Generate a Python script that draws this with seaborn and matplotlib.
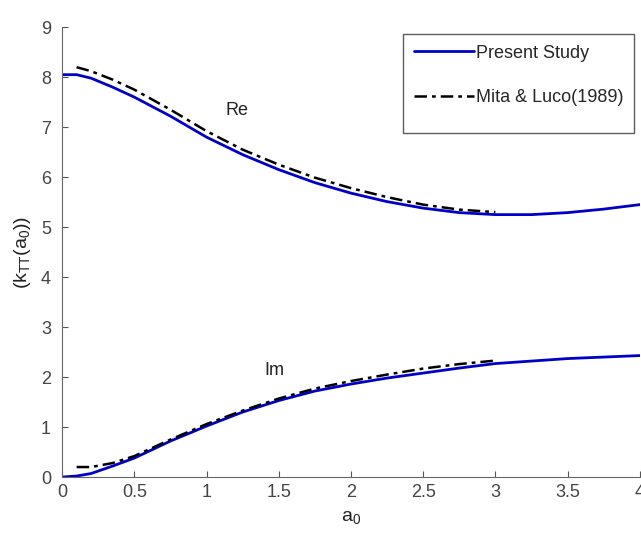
import numpy as np
import pandas as pd
import matplotlib
matplotlib.use('Agg')
import matplotlib.pyplot as plt
import seaborn as sns

# Present Study (blue solid)
a0_present = [0.0, 0.1, 0.2, 0.35, 0.5, 0.75, 1.0, 1.25, 1.5, 1.75, 2.0, 2.25, 2.5, 2.75, 3.0, 3.25, 3.5, 3.75, 4.0]
re_present = [8.05, 8.05, 7.98, 7.8, 7.6, 7.22, 6.8, 6.45, 6.15, 5.89, 5.68, 5.51, 5.38, 5.29, 5.25, 5.25, 5.29, 5.36, 5.45]
im_present = [0.0, 0.02, 0.07, 0.22, 0.38, 0.72, 1.02, 1.3, 1.53, 1.72, 1.86, 1.98, 2.08, 2.18, 2.27, 2.32, 2.37, 2.4, 2.43]

# Mita & Luco (1989) (black dash-dot)
a0_mita = [0.1, 0.2, 0.35, 0.5, 0.75, 1.0, 1.25, 1.5, 1.75, 2.0, 2.25, 2.5, 2.75, 3.0]
re_mita = [8.2, 8.12, 7.95, 7.75, 7.35, 6.92, 6.55, 6.25, 5.99, 5.78, 5.6, 5.45, 5.35, 5.3]
im_mita = [0.2, 0.2, 0.28, 0.42, 0.75, 1.06, 1.33, 1.57, 1.77, 1.92, 2.05, 2.17, 2.26, 2.33]

sns.set_style('ticks')
plt.rcParams['font.family'] = ['Liberation Sans', 'DejaVu Sans']
plt.rcParams['mathtext.fontset'] = 'custom'
plt.rcParams['mathtext.rm'] = 'Liberation Sans'
plt.rcParams['mathtext.it'] = 'Liberation Sans'

fig = plt.figure(figsize=(6.41, 5.33), dpi=100)
ax = fig.add_axes([0.097, 0.105, 0.901, 0.844])

df_p = pd.DataFrame({'a0': a0_present, 're': re_present, 'im': im_present})
df_m = pd.DataFrame({'a0': a0_mita, 're': re_mita, 'im': im_mita})

dashdot = (0, (5, 2, 1.5, 2))
sns.lineplot(data=df_p, x='a0', y='re', ax=ax, color='#0000c8', lw=2, sort=False, label='Present Study')
sns.lineplot(data=df_p, x='a0', y='im', ax=ax, color='#0000c8', lw=2, sort=False)
sns.lineplot(data=df_m, x='a0', y='re', ax=ax, color='black', lw=1.8, sort=False,
             linestyle=dashdot, label='Mita & Luco(1989)')
sns.lineplot(data=df_m, x='a0', y='im', ax=ax, color='black', lw=1.8, sort=False,
             linestyle=dashdot)

ax.text(1.21, 7.34, 'Re', fontsize=13, ha='center', va='center', color='#222222')
ax.text(1.47, 2.14, 'Im', fontsize=13, ha='center', va='center', color='#222222')

ax.set_xlim(0, 4)
ax.set_ylim(0, 9)
ax.set_xticks(np.arange(0, 4.01, 0.5))
ax.set_xticklabels(['0', '0.5', '1', '1.5', '2', '2.5', '3', '3.5', '4'])
ax.set_yticks(range(0, 10))
ax.tick_params(direction='in', length=4, labelsize=13, colors='#555555', labelcolor='#444444')
ax.tick_params(axis='y', pad=8)
ax.tick_params(axis='x', pad=5)
for s in ['top', 'right']:
    ax.spines[s].set_visible(False)
for s in ['left', 'bottom']:
    ax.spines[s].set_color('#666666')
    ax.spines[s].set_linewidth(0.8)

ax.set_xlabel(r'a$_0$', fontsize=14, color='#222222', labelpad=6)
ax.set_ylabel(r'(k$_{TT}$(a$_0$))', fontsize=14, color='#222222', labelpad=6)

leg = ax.legend(loc='upper right', bbox_to_anchor=(0.99, 0.985), fontsize=13, frameon=True,
                fancybox=False, edgecolor='#333333', handlelength=3.3, handletextpad=0.1,
                labelspacing=1.5, borderpad=0.6, borderaxespad=0)
frame = leg.get_frame()
frame.set_linewidth(1.0)

# the reference box has blank room below the last entry: stretch the frame down
orig_draw = frame.draw
def draw_taller(renderer, _f=frame, _orig=orig_draw):
    extra = 16
    y, h = _f.get_y(), _f.get_height()
    _f.set_y(y - extra)
    _f.set_height(h + extra)
    _orig(renderer)
    _f.set_y(y)
    _f.set_height(h)
frame.draw = draw_taller

plt.savefig('out.png', dpi=100)
plt.close()
